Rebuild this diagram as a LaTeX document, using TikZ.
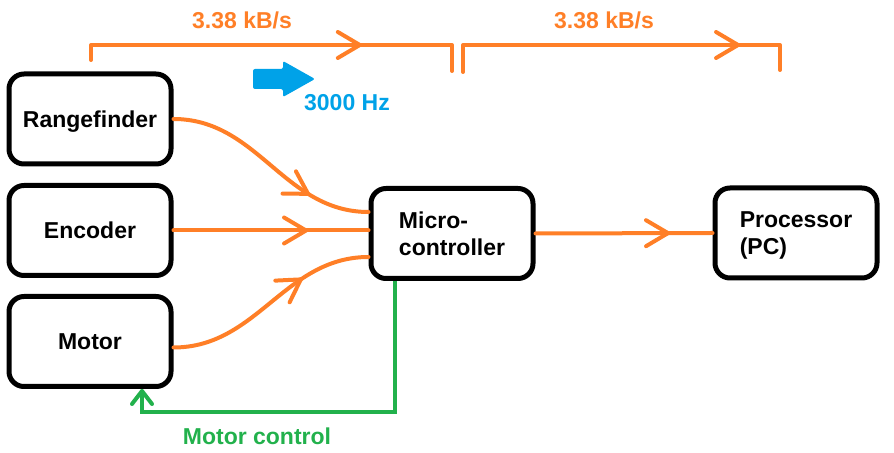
\documentclass[tikz,border=0pt]{standalone}
\usepackage{fontspec}
\setmainfont{Liberation Sans}
\usepackage{tikz}
\usetikzlibrary{positioning,calc,arrows.meta,decorations.markings}
\definecolor{dataorange}{HTML}{FF7F27}
\definecolor{ratecyan}{HTML}{00A2E8}
\definecolor{ctrlgreen}{HTML}{22B14C}

\begin{document}
\begin{tikzpicture}[x=0.5pt,y=-0.5pt,
    font=\fontsize{11.5}{13.8}\selectfont\bfseries,
    block/.style={draw,line width=2.5pt,rounded corners=7.5pt,minimum width=81pt,minimum height=45pt,align=left,text depth=0pt},
    flow/.style={dataorange,line width=2pt,line cap=round},
    ctrl/.style={ctrlgreen,line width=2pt},
    midarrow/.style={postaction={decorate},decoration={markings,mark=at position #1 with {\arrow{Straight Barb[length=11pt,width=13pt,round]}}}}]
    \useasboundingbox (0,0) rectangle (894,453);

    % Sensors and actuator
    \foreach \name/\txt/\y in {rf/Rangefinder/119, en/Encoder/230.5, mo/Motor/341.5}
        \node[block] (\name) at (90,\y) {\txt};
    \node[block] (mc) at (452,233.5) {Micro-\\controller};
    \node[block] (pc) at (796,233) {Processor\\(PC)};

    % Data flow
    \draw[flow,midarrow=0.72] (rf.east) to[out=0,in=180] ([yshift=10.75pt]mc.west);
    \draw[flow,midarrow=0.69] (en.east) -- (en.east -| mc.west);
    \draw[flow,midarrow=0.68] ([yshift=-3pt]mo.east) to[out=0,in=180] ([yshift=-11.75pt]mc.west);
    \draw[flow,midarrow=0.76] (mc.east) -- (pc.west);

    % Motor control
    \draw[ctrl,-{Straight Barb[length=6.5pt,width=10pt,round]}] ([xshift=-28.5pt]mc.south) -- ++(0,131) -| ([xshift=26pt]mo.south);
    \node[ctrlgreen] (mclabel) at (257,436) {Motor control};

    % Data rates
    \foreach \xa/\ya/\xb/\yb/\pos in {91/60/452/71/0.711, 463/72/780/70/0.824}
        \draw[flow,line join=round,midarrow=\pos] (\xa,\ya) -- (\xa,45) -- (\xb,45) -- (\xb,\yb);
    \node[dataorange] (rate1) at (242,20) {3.38 kB/s};
    \node[dataorange] (rate2) at (604,20) {3.38 kB/s};

    % Sample rate
    \fill[ratecyan,rounded corners=1pt] (253,69) -- (283,69) -- (283,61) -- (315,79) -- (283,97) -- (283,89) -- (253,89) -- cycle;
    \node[ratecyan] (hz) at (347,103) {3000 Hz};
\end{tikzpicture}
\end{document}
